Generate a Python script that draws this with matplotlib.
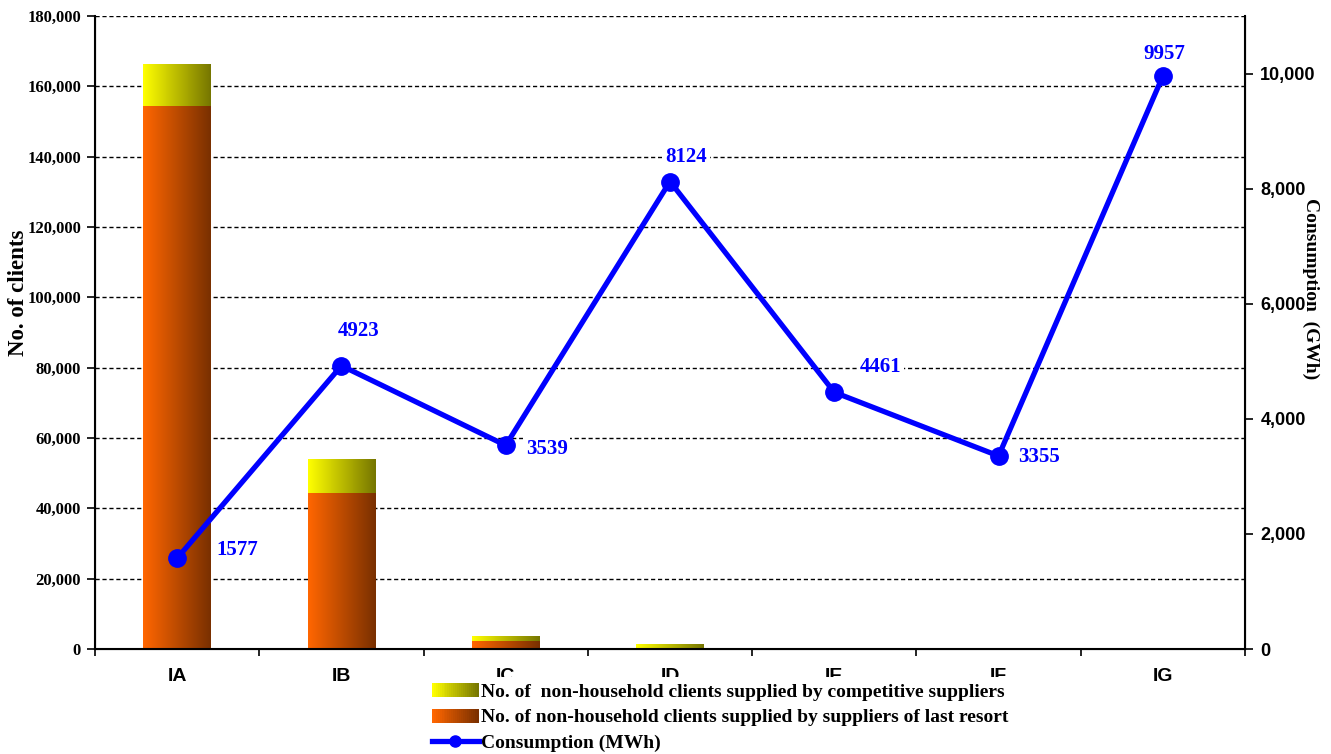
import numpy as np
import matplotlib.pyplot as plt
from matplotlib.patches import Rectangle
from matplotlib.lines import Line2D
from matplotlib.legend_handler import HandlerBase
from matplotlib.colors import to_rgb
from matplotlib.ticker import FuncFormatter, FixedLocator

# data
categories = ["IA", "IB", "IC", "ID", "IE", "IF", "IG"]
last_resort = [154500, 44400, 2200, 400, 60, 40, 40]
competitive = [11850, 9650, 1300, 1100, 150, 120, 110]
consumption = [1577, 4923, 3539, 8124, 4461, 3355, 9957]

# label offsets (pixels) for the consumption values
label_offsets = [(60, 8), (17, 35), (41, -4), (16, 25), (46, 25), (40, -1), (1, 22)]

serif = "Liberation Serif"
sans = "Liberation Sans"
orange_grad = ("#ff6600", "#7a3000")
yellow_grad = ("#ffff00", "#767600")
blue = "#0000ff"


def grad_img(c0, c1, n=64):
    a = np.array(to_rgb(c0))
    b = np.array(to_rgb(c1))
    t = np.linspace(0, 1, n)[None, :, None]
    return a + (b - a) * t


class GradHandler(HandlerBase):
    def __init__(self, c0, c1):
        super().__init__()
        self.c0, self.c1 = c0, c1

    def create_artists(self, legend, orig_handle, xdescent, ydescent,
                       width, height, fontsize, trans):
        n = 24
        a = np.array(to_rgb(self.c0))
        b = np.array(to_rgb(self.c1))
        arts = []
        for i in range(n):
            c = a + (b - a) * i / (n - 1)
            r = Rectangle((-xdescent + i * width / n, -ydescent), width / n + 0.3,
                          height, facecolor=c, edgecolor="none", transform=trans)
            arts.append(r)
        return arts


fig = plt.figure(figsize=(13.31, 7.54), dpi=100)
ax = fig.add_axes([95 / 1331, 1 - 649 / 754, 1150 / 1331, 633 / 754])
x = np.arange(len(categories))
w = 0.41

b1 = ax.bar(x, last_resort, w, color="none", zorder=2)
b2 = ax.bar(x, competitive, w, bottom=last_resort, color="none", zorder=2)
for bars, cols in ((b1, orange_grad), (b2, yellow_grad)):
    for p in bars:
        x0, y0 = p.get_x(), p.get_y()
        ax.imshow(grad_img(*cols), extent=[x0, x0 + p.get_width(), y0, y0 + p.get_height()],
                  aspect="auto", zorder=2, interpolation="bilinear")

ax.set_xlim(-0.5, len(categories) - 0.5)
ax.set_ylim(0, 180000)
ax.set_yticks(np.arange(0, 180001, 20000))
ax.yaxis.set_major_formatter(FuncFormatter(lambda v, p: f"{int(v):,}"))
ax.grid(axis="y", color="black", linestyle=(0, (3, 2)), linewidth=1)
ax.set_axisbelow(True)
ax.spines["top"].set_visible(False)
ax.spines["left"].set_linewidth(1.5)
ax.spines["bottom"].set_linewidth(1.5)
ax.tick_params(axis="y", direction="out", length=6, width=1.2, pad=4)
for t in ax.get_yticklabels():
    t.set_fontfamily(serif)
    t.set_fontweight("bold")
    t.set_fontsize(12)

ax.xaxis.set_major_locator(FixedLocator(np.arange(-0.5, len(categories), 1.0)))
ax.xaxis.set_minor_locator(FixedLocator(x))
ax.set_xticklabels([], minor=False)
ax.set_xticklabels(categories, minor=True, fontfamily=sans, fontweight="bold", fontsize=14)
ax.tick_params(axis="x", which="major", direction="out", length=5, width=1.2)
ax.tick_params(axis="x", which="minor", length=0, pad=14)
ax.set_ylabel("No. of clients", fontfamily=serif, fontweight="bold", fontsize=16.5, va="center")
ax.yaxis.set_label_coords((18 - 95) / 1150, (649 - 293) / 633)

ax2 = ax.twinx()
ax2.set_ylim(0, 11000)
ax2.set_yticks(np.arange(0, 10001, 2000))
ax2.yaxis.set_major_formatter(FuncFormatter(lambda v, p: f"{int(v):,}"))
ax2.spines["top"].set_visible(False)
ax2.spines["right"].set_linewidth(1.5)
ax2.tick_params(axis="y", direction="out", length=6, width=1.2, pad=5)
for t in ax2.get_yticklabels():
    t.set_fontfamily(sans)
    t.set_fontweight("bold")
    t.set_fontsize(13)
ax2.set_ylabel("Consumption  (GWh)", fontfamily=serif, fontweight="bold", fontsize=14,
               rotation=270, va="center")
ax2.yaxis.set_label_coords((1311 - 95) / 1150, (649 - 289) / 633)

ax2.plot(x, consumption, color=blue, linewidth=3.8, marker="o", markersize=12.5, zorder=3)
for xi, v, (dx, dy) in zip(x, consumption, label_offsets):
    ax2.annotate(str(v), (xi, v), xytext=(dx * 0.72, dy * 0.72), textcoords="offset points",
                 ha="center", va="center", color=blue, fontfamily=serif, fontweight="bold",
                 fontsize=15, zorder=4,
                 bbox=dict(facecolor="white", edgecolor="none", pad=2))

h_comp = Rectangle((0, 0), 1, 1)
h_last = Rectangle((0, 0), 1, 1)
h_line = Line2D([], [], color=blue, linewidth=3.8, marker="o", markersize=8)
leg = fig.legend([h_comp, h_last, h_line],
                 ["No. of  non-household clients supplied by competitive suppliers",
                  "No. of non-household clients supplied by suppliers of last resort",
                  "Consumption (MWh)"],
                 loc="upper left", bbox_to_anchor=(426 / 1331, 1 - 677 / 754),
                 handler_map={h_comp: GradHandler(*yellow_grad),
                              h_last: GradHandler(*orange_grad)},
                 prop={"family": serif, "weight": "bold", "size": 14},
                 frameon=True, fancybox=False, edgecolor="none", facecolor="white",
                 framealpha=1, handlelength=2.4, handleheight=0.75, handletextpad=0.15,
                 labelspacing=0.4, borderpad=0.3, borderaxespad=0)

fig.savefig("out.png", dpi=100)
